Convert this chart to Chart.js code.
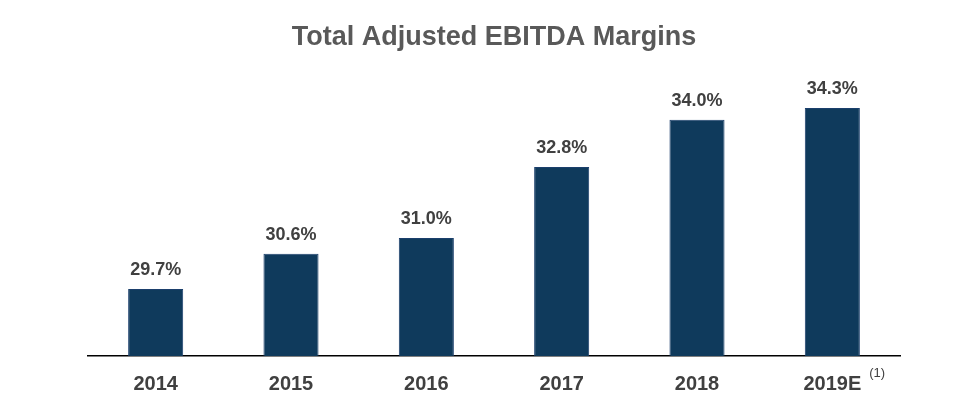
<!DOCTYPE html>
<html><head><meta charset="utf-8">
<script src="https://cdn.jsdelivr.net/npm/chart.js@4"></script>
<style>html,body{margin:0;padding:0;background:#fff;}#wrap{width:974px;height:395px;}</style>
</head><body><div id="wrap"><canvas id="c" width="974" height="395"></canvas></div>
<script>
const categories = ['2014','2015','2016','2017','2018','2019E'];
const margins = [29.7, 30.6, 31.0, 32.8, 34.0, 34.3];
const footnotes = ['', '', '', '', '', '(1)'];
const chartTitle = 'Total Adjusted EBITDA Margins';

const FONT = '"Liberation Sans", Arial, sans-serif';

const labelPlugin = {
  id: 'labels',
  afterDatasetsDraw(chart) {
    const ctx = chart.ctx;
    const meta = chart.getDatasetMeta(0);
    ctx.save();
    ctx.fillStyle = '#404040';
    ctx.font = 'bold 18px ' + FONT;
    ctx.textAlign = 'center';
    ctx.textBaseline = 'alphabetic';
    meta.data.forEach((bar, i) => {
      ctx.fillText(margins[i].toFixed(1) + '%', bar.x, bar.y - 14);
    });
    const xs = chart.scales.x;
    ctx.textAlign = 'left';
    categories.forEach((c, i) => {
      if (!footnotes[i]) return;
      const cx = xs.getPixelForValue(i);
      ctx.font = 'bold 20px ' + FONT;
      const w = ctx.measureText(c).width;
      ctx.font = '13px ' + FONT;
      ctx.fillText(footnotes[i], cx + w / 2 + 8, 377);
    });
    ctx.restore();
  }
};

new Chart(document.getElementById('c'), {
  type: 'bar',
  data: {
    labels: categories,
    datasets: [{
      data: margins,
      backgroundColor: '#0f3a5c',
      borderColor: '#1b3f6c',
      borderWidth: 1,
      barPercentage: 1,
      categoryPercentage: 0.407
    }]
  },
  options: {
    responsive: false,
    animation: false,
    layout: { padding: { left: 88, right: 74, top: 0, bottom: 0 } },
    plugins: {
      legend: { display: false },
      tooltip: { enabled: false },
      title: {
        display: true,
        text: chartTitle,
        color: '#595959',
        font: { family: FONT, size: 27, weight: 'bold', lineHeight: 1.2 },
        padding: { top: 21, bottom: 27 }
      }
    },
    scales: {
      x: {
        grid: { display: false, drawTicks: false },
        border: { display: true, color: '#000', width: 1.5 },
        afterFit(scale) { scale.height = 39; },
        ticks: {
          color: '#404040',
          padding: 16,
          font: { family: FONT, size: 20, weight: 'bold', lineHeight: 1.2 }
        }
      },
      y: {
        display: false,
        min: 28,
        max: 35
      }
    }
  },
  plugins: [labelPlugin]
});
</script>
</body></html>
